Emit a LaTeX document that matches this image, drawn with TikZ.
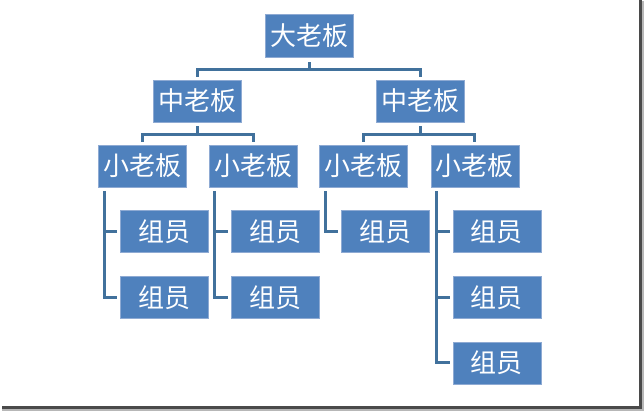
\documentclass[tikz,border=0pt]{standalone}
\usepackage{fontspec}
\newfontfamily\cjk{Noto Sans CJK SC}
\usetikzlibrary{positioning,calc}
\definecolor{boxblue}{HTML}{4F81BD}
\definecolor{boxedge}{HTML}{8EAAD3}
\definecolor{linkblue}{HTML}{41719C}
\definecolor{shadowgray}{HTML}{4A4A4A}

\begin{document}
\begin{tikzpicture}[
  x=1pt, y=-1pt,
  line width=3pt,
  box/.style={rectangle, fill=boxblue, draw=boxedge, line width=0.6pt, minimum width=88pt, minimum height=42pt, inner sep=0pt, align=center, text=white, font=\cjk\fontsize{26}{26}\selectfont},
  link/.style={draw=linkblue, line width=3pt}
]
  \useasboundingbox (0,0) rectangle (644,411);
  \fill[white] (0,0) rectangle (644,411);

  \node[box, minimum height=43pt] (boss) at (309,35.5) {大老板};
  \node[box] (midL) at (197.5,101) {中老板};
  \node[box] (midR) at (420,101) {中老板};
  \node[box] (lead1) at (142.5,166) {小老板};
  \node[box, right=22pt of lead1] (lead2) {小老板};
  \node[box, right=22pt of lead2] (lead3) {小老板};
  \node[box, right=22.5pt of lead3] (lead4) {小老板};

  \node[box, below right=23pt and 22pt of lead1.south west, anchor=north west] (mem11) {组员};
  \node[box, below=23pt of mem11] (mem12) {组员};
  \node[box, below right=23pt and 22pt of lead2.south west, anchor=north west] (mem21) {组员};
  \node[box, below=23pt of mem21] (mem22) {组员};
  \node[box, below right=23pt and 22pt of lead3.south west, anchor=north west] (mem31) {组员};
  \node[box, below right=23pt and 22pt of lead4.south west, anchor=north west] (mem41) {组员};
  \node[box, below=23pt of mem41] (mem42) {组员};
  \node[box, below=23pt of mem42] (mem43) {组员};

  \draw[link] ([yshift=-5pt]boss.south) -- ([yshift=-12pt]boss.south);
  \draw[link] ([yshift=3pt]midL.north) |- ([yshift=-12pt]boss.south) -| ([yshift=3pt]midR.north);

  \draw[link] ([yshift=-4pt]midL.south) -- ([yshift=-12pt]midL.south);
  \draw[link] ([yshift=3pt]lead1.north) |- ([yshift=-12pt]midL.south) -| ([yshift=3pt]lead2.north);
  \draw[link] ([yshift=-4pt]midR.south) -- ([yshift=-12pt]midR.south);
  \draw[link] ([yshift=3pt]lead3.north) |- ([yshift=-12pt]midR.south) -| ([yshift=3pt]lead4.north);

  \draw[link] ([xshift=6pt,yshift=-4pt]lead1.south west) |- ([xshift=-3pt]mem12.west);
  \draw[link] ([xshift=-3pt]mem11.west) -- ++(-13,0);
  \draw[link] ([xshift=6pt,yshift=-4pt]lead2.south west) |- ([xshift=-3pt]mem22.west);
  \draw[link] ([xshift=-3pt]mem21.west) -- ++(-13,0);
  \draw[link] ([xshift=6pt,yshift=-4pt]lead3.south west) |- ([xshift=-3pt]mem31.west);
  \draw[link] ([xshift=6pt,yshift=-4pt]lead4.south west) |- ([xshift=-3pt]mem43.west);
  \draw[link] ([xshift=-3pt]mem41.west) -- ++(-13,0);
  \draw[link] ([xshift=-3pt]mem42.west) -- ++(-13,0);

  \draw[shadowgray!40, line width=1.5pt] (643,1) -- (643,410) -- (2,410);
  \draw[shadowgray, line width=2.5pt] (640.5,0) -- (640.5,407.5) -- (2,407.5);
\end{tikzpicture}
\end{document}
